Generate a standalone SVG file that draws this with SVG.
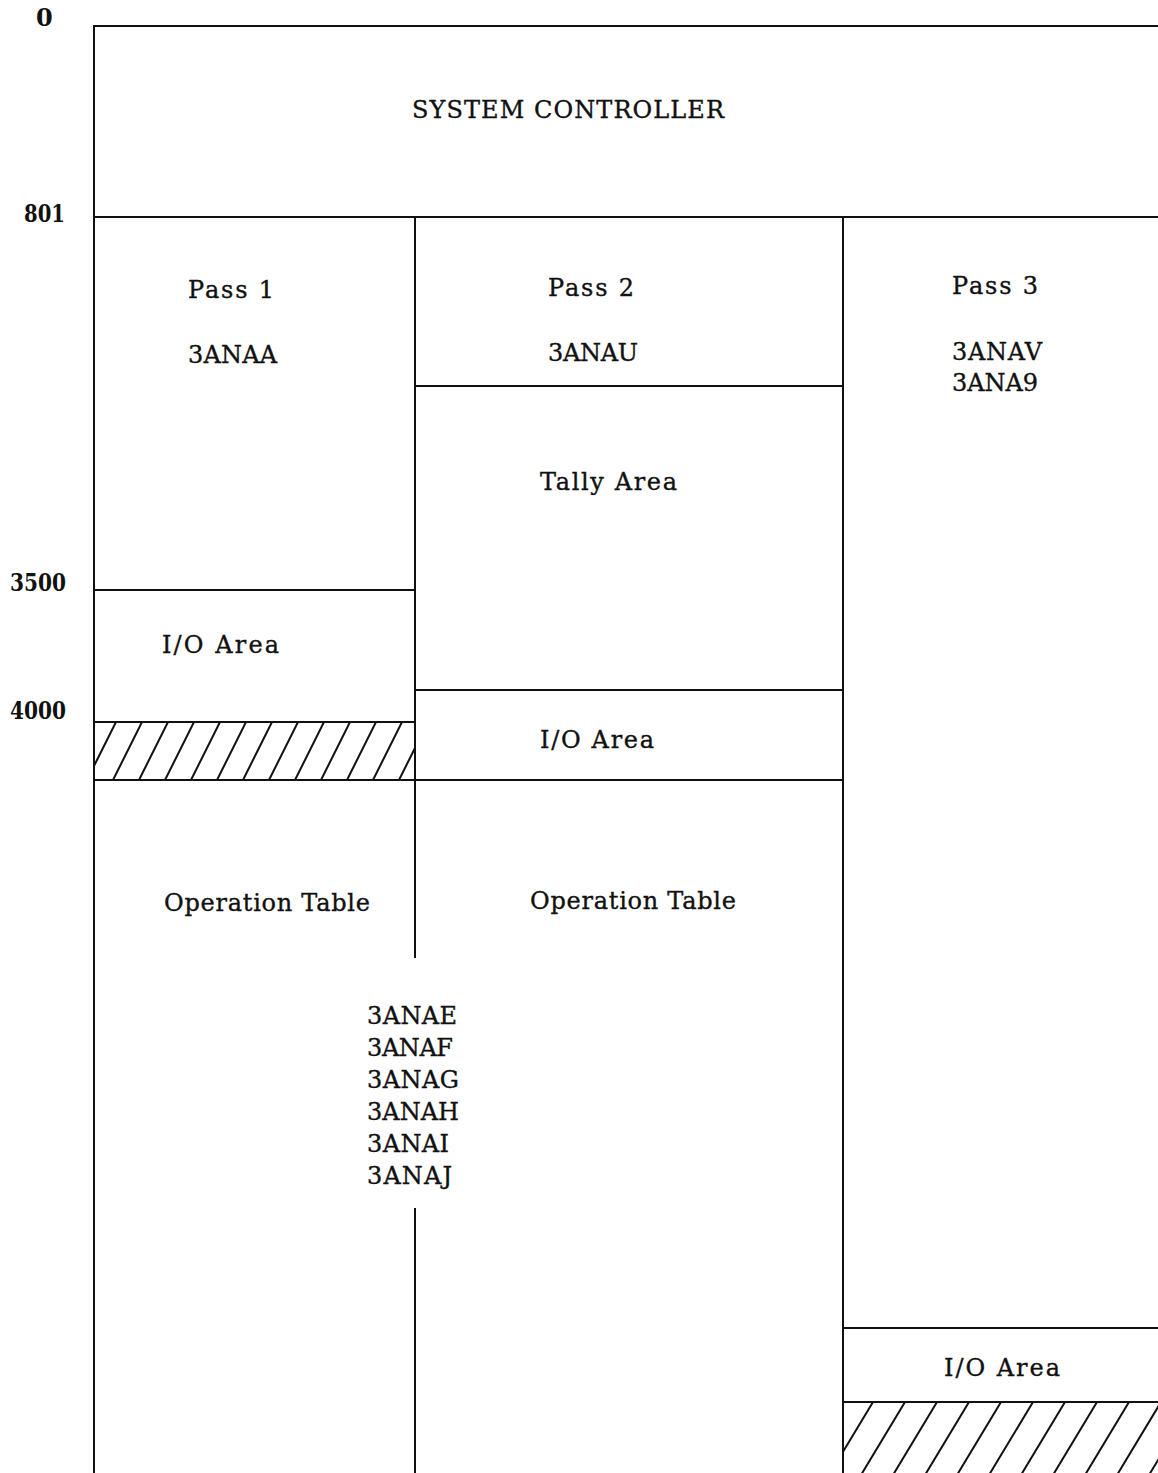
<svg xmlns="http://www.w3.org/2000/svg" width="1158" height="1473" viewBox="0 0 1158 1473">
<style>
text{font-family:"DejaVu Serif","Liberation Serif",serif;font-size:24px;fill:#111;stroke:#111;stroke-width:0.35}
.num{font-weight:bold;stroke-width:0}
.ln{stroke:#111;stroke-width:2;fill:none}
.h{stroke:#111;stroke-width:2}
</style>
<defs>
<clipPath id="c1"><rect x="95" y="723" width="319" height="56"/></clipPath>
<clipPath id="c2"><rect x="844" y="1403" width="320" height="80"/></clipPath>
</defs>
<rect width="1158" height="1473" fill="#fff"/>
<g id="scale">
<text class="num" x="36" y="26">0</text>
<text class="num" x="24" y="222" textLength="41" lengthAdjust="spacingAndGlyphs">801</text>
<text class="num" x="10" y="591" textLength="56" lengthAdjust="spacingAndGlyphs">3500</text>
<text class="num" x="10" y="719" textLength="56" lengthAdjust="spacingAndGlyphs">4000</text>
</g>
<g id="connectors">
<path class="ln" d="M94 1473V26H1158M94 217H1158M415 217V958M415 1208V1473M843 217V1473M415 386H843M94 590H415M94 722H415M94 780H843M415 690H843M843 1328H1158M843 1402H1158"/>
</g>
<g id="system-controller">
<text x="412" y="118" textLength="312" lengthAdjust="spacing">SYSTEM CONTROLLER</text>
</g>
<g id="pass1">
<text x="188" y="298" textLength="86" lengthAdjust="spacing">Pass 1</text>
<text x="188" y="363" textLength="89" lengthAdjust="spacing">3ANAA</text>
</g>
<g id="pass2">
<text x="548" y="296" textLength="86" lengthAdjust="spacing">Pass 2</text>
<text x="548" y="361" textLength="90" lengthAdjust="spacing">3ANAU</text>
</g>
<g id="pass3">
<text x="952" y="294" textLength="86" lengthAdjust="spacing">Pass 3</text>
<text x="952" y="360" textLength="90" lengthAdjust="spacing">3ANAV</text>
<text x="952" y="391" textLength="86" lengthAdjust="spacing">3ANA9</text>
</g>
<g id="tally-area">
<text x="540" y="490" textLength="137" lengthAdjust="spacing">Tally Area</text>
</g>
<g id="io-area-1">
<text x="162" y="653" textLength="117" lengthAdjust="spacing">I/O Area</text>
</g>
<g id="io-area-2">
<text x="540" y="748" textLength="114" lengthAdjust="spacing">I/O Area</text>
</g>
<g id="io-area-3">
<text x="944" y="1376" textLength="116" lengthAdjust="spacing">I/O Area</text>
</g>
<g id="hatch-1" clip-path="url(#c1)">
<path class="h" d="M87 780L116 722M113 780L142 722M139 780L168 722M165 780L194 722M191 780L220 722M217 780L246 722M243 780L272 722M269 780L298 722M295 780L324 722M321 780L350 722M347 780L376 722M373 780L402 722M399 780L428 722"/>
</g>
<g id="hatch-2" clip-path="url(#c2)">
<path class="h" d="M829 1475L873 1402M861 1475L905 1402M893 1475L937 1402M925 1475L969 1402M957 1475L1001 1402M989 1475L1033 1402M1021 1475L1065 1402M1053 1475L1097 1402M1085 1475L1129 1402M1117 1475L1161 1402M1149 1475L1193 1402"/>
</g>
<g id="operation-table-1">
<text x="164" y="911" textLength="206" lengthAdjust="spacing">Operation Table</text>
</g>
<g id="operation-table-2">
<text x="530" y="909" textLength="206" lengthAdjust="spacing">Operation Table</text>
</g>
<g id="modules">
<text x="367" y="1024" textLength="90" lengthAdjust="spacing">3ANAE</text>
<text x="367" y="1056" textLength="86" lengthAdjust="spacing">3ANAF</text>
<text x="367" y="1088" textLength="92" lengthAdjust="spacing">3ANAG</text>
<text x="367" y="1120" textLength="92" lengthAdjust="spacing">3ANAH</text>
<text x="367" y="1152" textLength="82" lengthAdjust="spacing">3ANAI</text>
<text x="367" y="1184" textLength="85" lengthAdjust="spacing">3ANAJ</text>
</g>
</svg>
